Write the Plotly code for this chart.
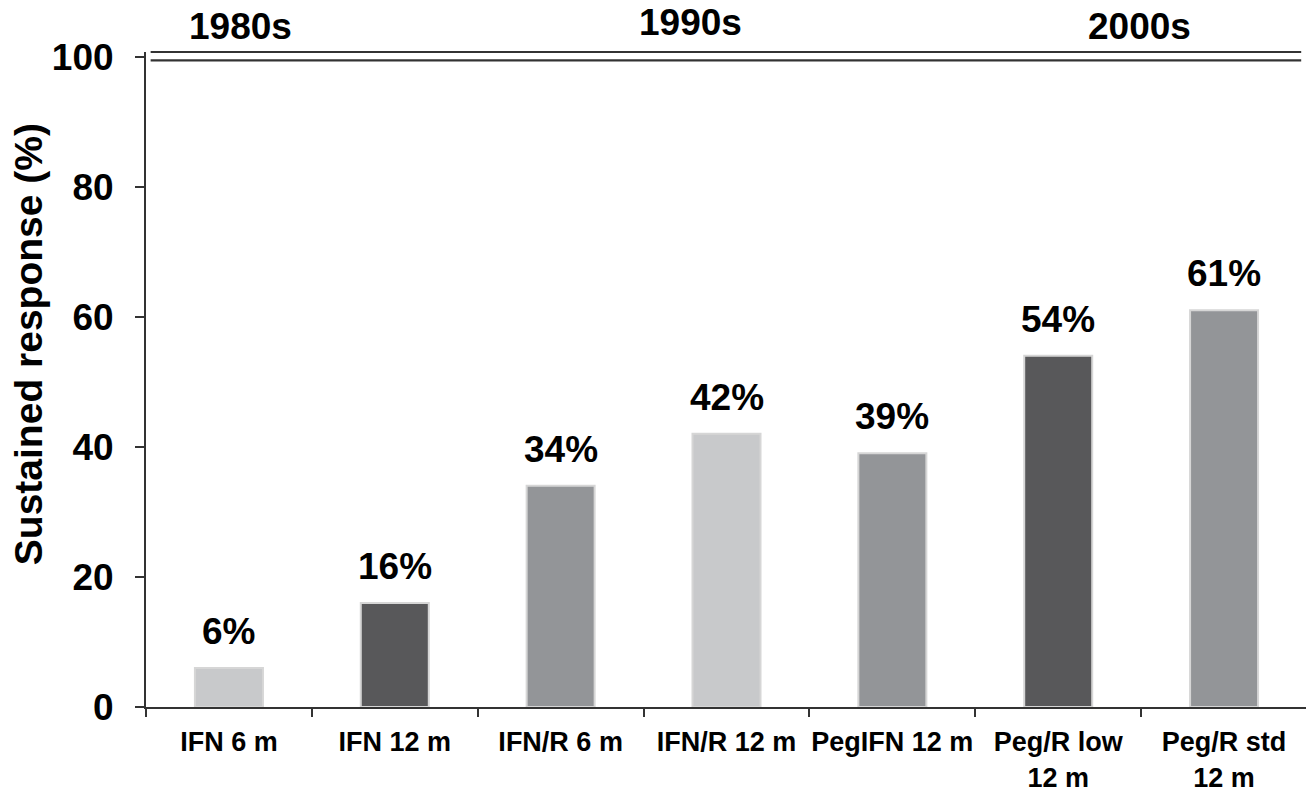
import plotly.graph_objects as go

categories = ["IFN 6 m", "IFN 12 m", "IFN/R 6 m", "IFN/R 12 m", "PegIFN 12 m",
              "Peg/R low<br>12 m", "Peg/R std<br>12 m"]
values = [6, 16, 34, 42, 39, 54, 61]
value_labels = ["6%", "16%", "34%", "42%", "39%", "54%", "61%"]
bar_colors = ["#c8c9cb", "#58585a", "#939598", "#c8c9cb", "#939598", "#58585a", "#939598"]
y_ticks = [0, 20, 40, 60, 80, 100]
decades = ["1980s", "1990s", "2000s"]
decade_x = [0.081, 0.4686, 0.8553]
decade_y = [1.0389, 1.0450, 1.0389]

FONT = "Liberation Sans, Arial, Helvetica, sans-serif"

fig = go.Figure()
fig.add_trace(go.Bar(
    x=categories, y=values,
    marker=dict(color=bar_colors, line=dict(color="#d6d6d6", width=2)),
    width=0.41,
    hoverinfo="x+y",
))

for c, v, t in zip(categories, values, value_labels):
    fig.add_annotation(x=c, y=v, xref="x", yref="y", text=t, showarrow=False,
                       yanchor="bottom", yshift=14,
                       font=dict(family=FONT, size=37, color="black", weight="bold"))

for d, dx, dy in zip(decades, decade_x, decade_y):
    fig.add_annotation(x=dx, y=dy, xref="paper", yref="paper", text=d, showarrow=False,
                       xanchor="center", yanchor="middle",
                       font=dict(family=FONT, size=37, color="black", weight="bold"))

fig.add_annotation(x=-0.1016, y=0.554, xref="paper", yref="paper",
                   text="Sustained response (%)", textangle=-90, showarrow=False,
                   xanchor="center", yanchor="middle",
                   font=dict(family=FONT, size=39, color="black", weight="bold"))

# double rule at the top
for py in [1.0, 0.9873]:
    fig.add_shape(type="line", xref="paper", yref="paper", x0=0.004, x1=0.995,
                  y0=py, y1=py, line=dict(color="#333333", width=2.2))

fig.update_layout(
    width=1306, height=787,
    margin=dict(l=138, r=7, t=44, b=88),
    plot_bgcolor="white", paper_bgcolor="white",
    showlegend=False,
    font=dict(family=FONT, color="black"),
    xaxis=dict(
        type="category", tickson="boundaries", ticks="outside", ticklen=8, tickwidth=2,
        tickcolor="#333333", showline=True, linecolor="#333333", linewidth=2,
        showgrid=False, zeroline=False, ticklabelstandoff=10, tickangle=0,
        automargin=False,
        tickfont=dict(family=FONT, size=27, color="black", weight="bold"),
    ),
    yaxis=dict(
        range=[0, 100.7], tickvals=y_ticks, ticks="outside", ticklen=9, tickwidth=2,
        tickcolor="#333333", showline=True, linecolor="#333333", linewidth=2,
        showgrid=False, zeroline=False, ticklabelstandoff=14, automargin=False,
        tickfont=dict(family=FONT, size=37, color="black", weight="bold"),
    ),
)

fig.write_html("out.html")
